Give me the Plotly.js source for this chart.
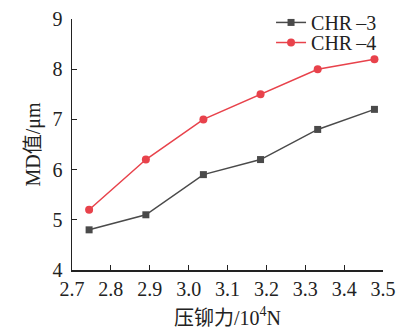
<!DOCTYPE html>
<html><head><meta charset="utf-8">
<script src="https://cdn.plot.ly/plotly-3.0.1.min.js"></script>
<style>html,body{margin:0;padding:0;background:#fff}#c{width:401px;height:333px}</style>
</head><body><div id="c"></div>
<script>
const force = [2.744, 2.89, 3.038, 3.185, 3.332, 3.478];
const chr3 = [4.8, 5.1, 5.9, 6.2, 6.8, 7.2];
const chr4 = [5.2, 6.2, 7.0, 7.5, 8.0, 8.2];
const names = ['CHR\u2009\u20133', 'CHR\u2009\u20134'];
const xTicks = [2.7, 2.8, 2.9, 3.0, 3.1, 3.2, 3.3, 3.4, 3.5];
const xTickText = ['2.7','2.8','2.9','3.0','3.1','3.2','3.3','3.4','3.5'];
const yTicks = [4, 5, 6, 7, 8, 9];

const serif = '"Liberation Serif", "Noto Sans CJK SC", serif';
const traces = [
  {x: force, y: chr3, name: names[0], legend: 'legend', mode: 'lines+markers', type: 'scatter',
   line: {color: '#4a4a4a', width: 1.5}, marker: {symbol: 'square', size: 7, color: '#4a4a4a'}},
  {x: force, y: chr4, name: names[1], legend: 'legend2', mode: 'lines+markers', type: 'scatter',
   line: {color: '#e8424b', width: 1.5}, marker: {symbol: 'circle', size: 8, color: '#e8424b'}}
];
const legFont = {family: serif, size: 20, color: '#222'};
const layout = {
  width: 401, height: 333,
  margin: {l: 72, r: 18, t: 19, b: 63, autoexpand: false},
  paper_bgcolor: '#fff', plot_bgcolor: '#fff',
  font: {family: serif, size: 20, color: '#222'},
  showlegend: true,
  legend: {x: 0.64, y: 1.064, xanchor: 'left', yanchor: 'top', bgcolor: 'rgba(0,0,0,0)',
           font: legFont, itemwidth: 30},
  legend2: {x: 0.64, y: 0.984, xanchor: 'left', yanchor: 'top', bgcolor: 'rgba(0,0,0,0)',
           font: legFont, itemwidth: 30},
  xaxis: {range: [2.7, 3.5], tickvals: xTicks, ticktext: xTickText, ticks: 'inside', ticklen: 5,
          tickwidth: 1.2, tickcolor: '#222', showline: true, linecolor: '#222', linewidth: 1.5,
          showgrid: false, zeroline: false, ticklabelstandoff: 0,
          tickfont: {family: serif, size: 20, color: '#222'},
          title: {text: '压铆力/10<sup>4</sup>N', font: {family: serif, size: 20, color: '#222'}, standoff: 12}},
  yaxis: {range: [4, 9], tickvals: yTicks, ticks: 'inside', ticklen: 5,
          tickwidth: 1.2, tickcolor: '#222', showline: true, linecolor: '#222', linewidth: 1.5,
          showgrid: false, zeroline: false, ticklabelstandoff: 4,
          tickfont: {family: serif, size: 20, color: '#222'},
          title: {text: 'MD值/μm', font: {family: serif, size: 20, color: '#222'}, standoff: 6}}
};
Plotly.newPlot('c', traces, layout, {staticPlot: true, displayModeBar: false});
</script></body></html>
